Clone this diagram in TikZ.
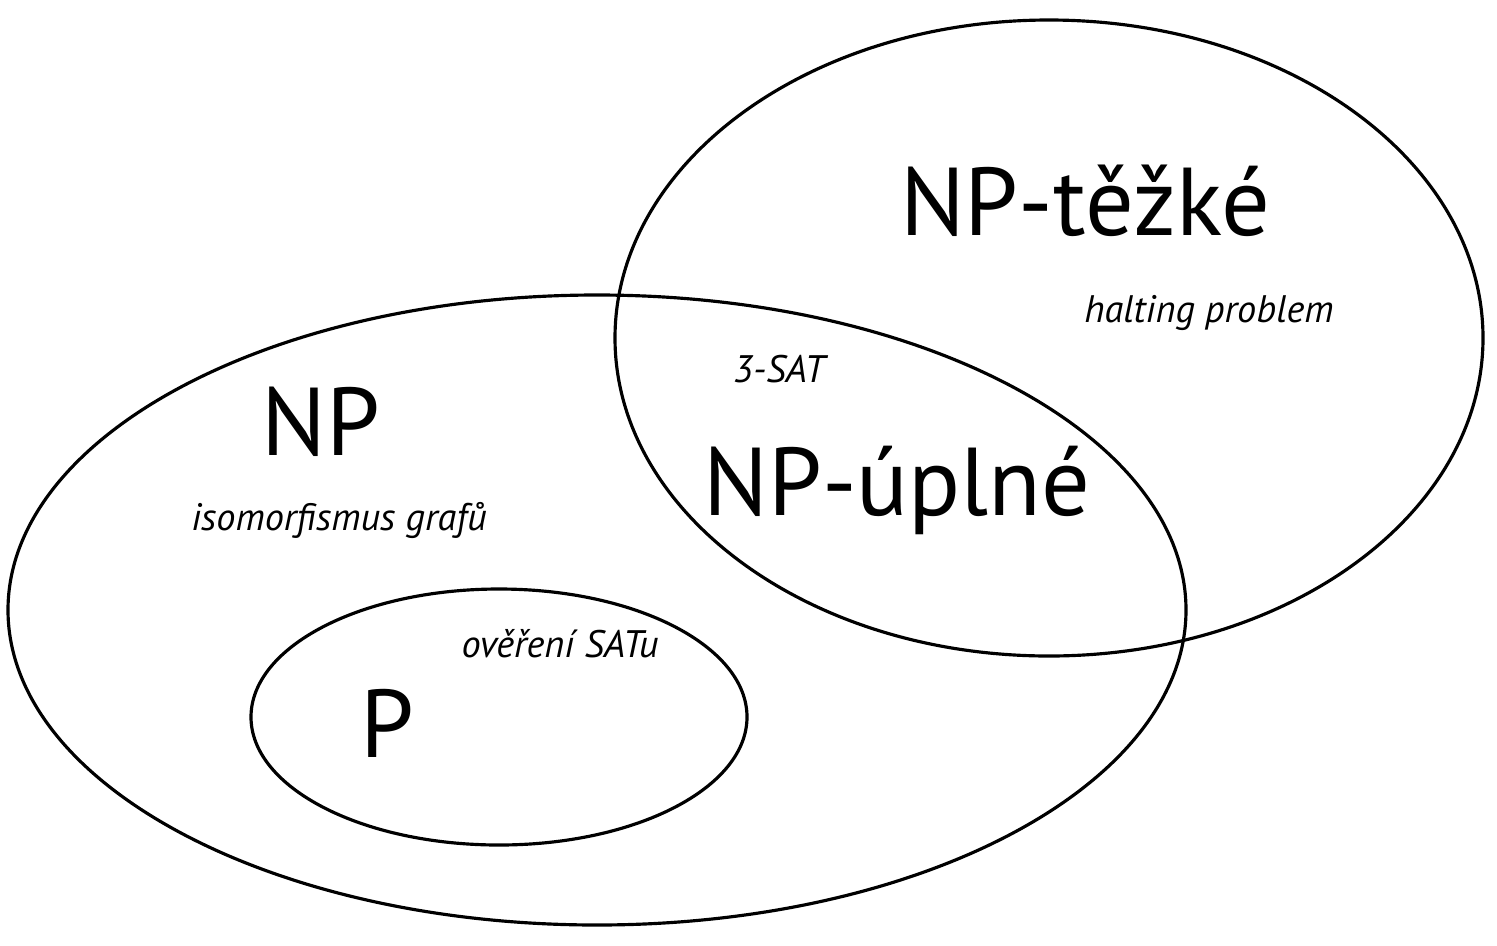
\documentclass[tikz,border=0pt]{standalone}
\usepackage{fontspec}
\setmainfont{PT Sans}
\usetikzlibrary{positioning}

\tikzset{
  set/.style={line width=0.9pt},
  classname/.style={font=\fontsize{27.4}{30}\selectfont, anchor=base, inner sep=0pt},
  example/.style={font=\fontsize{10.9}{13}\selectfont\itshape, anchor=base, inner sep=0pt}
}

\begin{document}
\begin{tikzpicture}[x=0.01cm, y=-0.01cm]
  \useasboundingbox (0,0) rectangle (1497,945);
  % Sets
  \draw[set] (597,610) ellipse [x radius=589, y radius=315];
  \draw[set] (1049,338) ellipse [x radius=434, y radius=318];
  \draw[set] (499,717) ellipse [x radius=248, y radius=128];
  % Class names
  \node[classname] (hard) at (1085,235) {NP-těžké};
  \node[classname] (complete) at (897,515) {NP-úplné};
  \node[classname] (np) at (321,455) {NP};
  \node[classname] (p) at (387,757) {P};
  % Examples
  \node[example] (halting) at (1209,322) {halting problem};
  \node[example] (sat) at (779,382) {3-SAT};
  \node[example] (iso) at (339,530) {isomorfismus grafů};
  \node[example] (verify) at (560,657) {ověření SATu};
\end{tikzpicture}
\end{document}
